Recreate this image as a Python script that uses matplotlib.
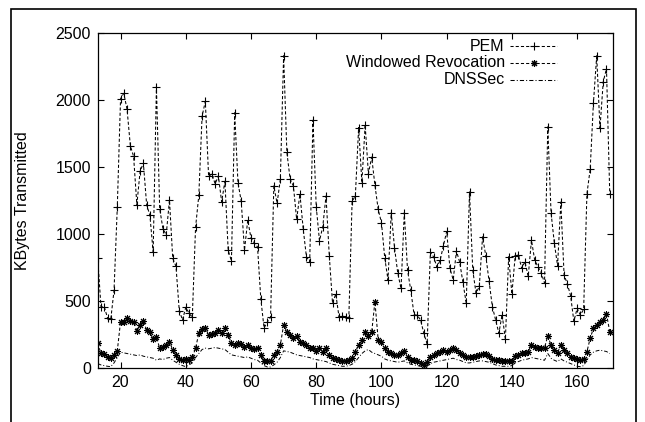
import matplotlib
matplotlib.use("Agg")
import matplotlib.pyplot as plt
from matplotlib.lines import Line2D
from matplotlib.patches import Rectangle

hours = list(range(13, 171))

pem = [820, 460, 460, 375, 365, 580, 1200, 2010, 2050, 1930,
       1660, 1580, 1220, 1470, 1530, 1220, 1140, 865, 2100, 1190,
       1040, 995, 1255, 820, 760, 430, 360, 455, 410, 380,
       1050, 1290, 1880, 1990, 1430, 1450, 1375, 1435, 1240, 1395,
       880, 800, 1905, 1385, 1245, 880, 1105, 970, 935, 905,
       520, 300, 345, 380, 1360, 1230, 1410, 2330, 1610, 1410,
       1360, 1110, 1300, 1040, 830, 795, 1850, 1205, 950, 1055,
       1285, 840, 485, 555, 380, 390, 380, 378, 1245, 1285,
       1795, 1385, 1815, 1450, 1575, 1365, 1185, 1085, 825, 660,
       1160, 900, 710, 595, 1160, 730, 580, 400, 395, 360,
       260, 180, 865, 830, 755, 805, 915, 1020, 745, 660,
       875, 790, 640, 485, 1315, 730, 560, 610, 980, 838,
       650, 460, 360, 262, 400, 215, 832, 555, 837, 845,
       745, 795, 685, 955, 805, 757, 712, 635, 1800, 1160,
       935, 765, 1240, 695, 630, 540, 350, 447, 397, 440,
       1300, 1485, 1980, 2330, 1790, 2135, 2235, 1300]

windowed = [186, 112, 107, 82, 74, 99, 129, 348, 348, 372,
            355, 348, 280, 323, 353, 285, 268, 218, 236, 149,
            156, 174, 199, 137, 99, 67, 62, 70, 62, 82,
            149, 261, 290, 300, 250, 256, 261, 285, 261, 298,
            248, 186, 174, 191, 179, 161, 174, 149, 142, 149,
            99, 57, 57, 57, 99, 124, 174, 323, 273, 248,
            223, 241, 199, 186, 174, 154, 149, 132, 149, 124,
            149, 99, 74, 67, 62, 57, 57, 62, 74, 124,
            174, 211, 273, 241, 268, 497, 211, 199, 149, 124,
            112, 99, 99, 112, 132, 87, 62, 62, 57, 37,
            25, 50, 87, 99, 117, 124, 137, 124, 137, 149,
            137, 117, 99, 87, 82, 87, 92, 99, 107, 105,
            90, 67, 62, 62, 57, 57, 57, 57, 92, 99,
            112, 117, 124, 174, 161, 154, 149, 154, 241, 174,
            137, 117, 174, 137, 112, 87, 74, 67, 62, 67,
            124, 223, 298, 323, 348, 360, 405, 273]

dnssec = [35, 25, 20, 15, 12, 40, 80, 120, 115, 110,
          105, 100, 95, 100, 90, 85, 80, 75, 60, 70,
          65, 75, 80, 60, 45, 30, 20, 12, 25, 40,
          80, 110, 140, 150, 145, 150, 155, 150, 145, 140,
          120, 100, 95, 90, 85, 80, 85, 75, 65, 60,
          40, 20, 10, 10, 25, 45, 80, 130, 125, 120,
          110, 100, 95, 90, 85, 80, 70, 65, 60, 55,
          50, 40, 30, 25, 20, 15, 15, 20, 30, 50,
          80, 110, 130, 140, 120, 110, 100, 90, 70, 60,
          55, 50, 45, 50, 55, 40, 30, 25, 20, 15,
          10, 15, 35, 45, 50, 55, 60, 65, 70, 75,
          65, 60, 50, 40, 40, 45, 50, 55, 55, 50,
          45, 35, 25, 20, 15, 15, 15, 20, 40, 50,
          60, 65, 70, 80, 75, 70, 65, 60, 110, 75,
          60, 50, 70, 55, 45, 35, 25, 15, 12, 20,
          60, 100, 120, 130, 135, 130, 125, 110]

series_labels = ["PEM", "Windowed Revocation", "DNSSec"]
x_ticks = [20, 40, 60, 80, 100, 120, 140, 160]
y_ticks = [0, 500, 1000, 1500, 2000, 2500]

plt.rcParams['font.family'] = ['Liberation Sans', 'DejaVu Sans']
plt.rcParams['font.size'] = 11.5

fig = plt.figure(figsize=(6.45, 4.22), dpi=100)
ax = fig.add_axes([0.1515, 0.1273, 0.7989, 0.7945])

dash = (0, (3, 2))
dashdot = (0, (4, 2, 1, 2))
star = (8, 2, 0)

ax.plot(hours, pem, color='black', lw=0.75, linestyle=dash,
        marker='+', markersize=6, markeredgewidth=0.8)
ax.plot(hours, windowed, color='black', lw=0.75, linestyle=dash,
        marker=star, markersize=5, markeredgewidth=0.75)
ax.plot(hours, dnssec, color='black', lw=0.7, linestyle=dashdot)

ax.set_xlim(13, 171)
ax.set_ylim(0, 2500)
ax.set_xticks(x_ticks)
ax.set_yticks(y_ticks)
ax.tick_params(direction='in', length=4, width=0.8, top=True, right=True,
               labelsize=11.5, pad=5)
for s in ax.spines.values():
    s.set_linewidth(0.9)

ax.set_xlabel("Time (hours)", fontsize=11.5, labelpad=2)
ax.set_ylabel("KBytes Transmitted", fontsize=11.5, labelpad=18)

# gnuplot-style legend: right-aligned text, sample line to the right
rows = [0.961, 0.911, 0.860]
styles = [dict(linestyle=dash, marker='+', ms=6),
          dict(linestyle=dash, marker=star, ms=5),
          dict(linestyle=dashdot, marker=None, ms=5)]
for lab, yy, st in zip(series_labels, rows, styles):
    ax.text(0.790, yy, lab, transform=ax.transAxes, ha='right', va='center',
            fontsize=11.5)
    ln = Line2D([0.800, 0.846, 0.892], [yy, yy, yy], transform=ax.transAxes,
                color='black', lw=0.75, linestyle=st['linestyle'],
                marker=st['marker'], markevery=[1], markersize=st['ms'],
                markeredgewidth=0.8)
    ax.add_line(ln)

# outer frame around the figure
fig.patches.append(Rectangle((11 / 645, -0.1), (636 - 11) / 645, 1.1 - 9 / 422,
                             transform=fig.transFigure, fill=False,
                             edgecolor='black', lw=1.2))

fig.savefig("out.png", dpi=100)
